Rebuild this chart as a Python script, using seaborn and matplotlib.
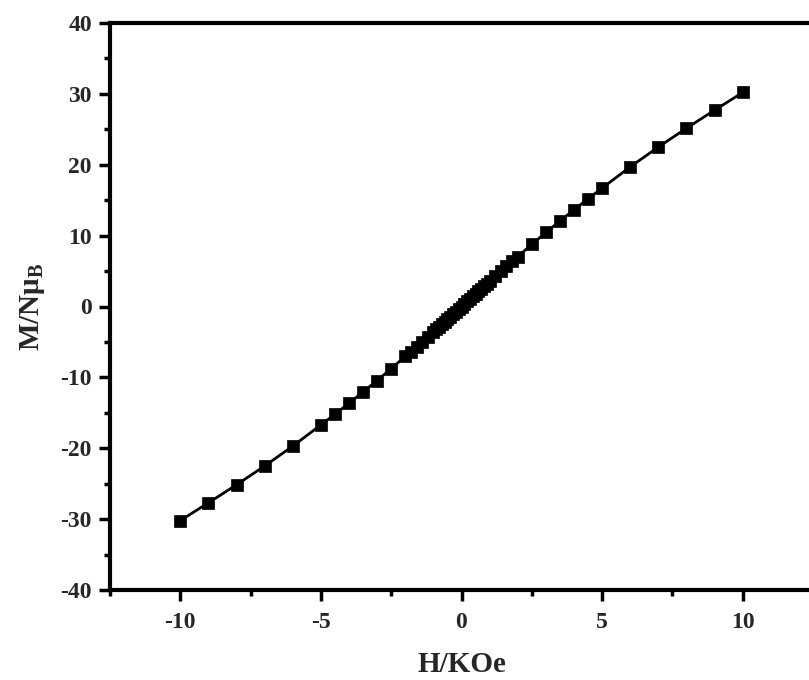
import matplotlib
matplotlib.use("Agg")
import matplotlib.pyplot as plt
import seaborn as sns
import pandas as pd
from matplotlib.ticker import MultipleLocator

# Data (H in kOe, M in N muB)
H_pos = [0.0, 0.1, 0.2, 0.3, 0.4, 0.5, 0.6, 0.7, 0.8, 0.9, 1.0,
         1.2, 1.4, 1.6, 1.8, 2.0, 2.5, 3.0, 3.5, 4.0, 4.5, 5.0,
         6.0, 7.0, 8.0, 9.0, 10.0]
M_pos = [0.0, 0.36, 0.71, 1.07, 1.43, 1.78, 2.14, 2.50, 2.85, 3.20, 3.56,
         4.26, 4.97, 5.67, 6.37, 7.05, 8.75, 10.45, 12.05, 13.65, 15.2, 16.7,
         19.7, 22.5, 25.15, 27.7, 30.2]
H_neg = [-h for h in H_pos[:0:-1]]
M_neg = [-m for m in M_pos[:0:-1]]
H = H_neg + H_pos
M = M_neg + M_pos

x_ticks = [-10, -5, 0, 5, 10]
y_ticks = [-40, -30, -20, -10, 0, 10, 20, 30, 40]

df = pd.DataFrame({"H": H, "M": M})

sns.set_style("ticks")
plt.rcParams["font.family"] = ["Liberation Serif", "DejaVu Serif"]
plt.rcParams["font.weight"] = "bold"
plt.rcParams["mathtext.fontset"] = "custom"
plt.rcParams["mathtext.rm"] = "Liberation Serif:bold"
plt.rcParams["mathtext.it"] = "Liberation Serif:bold"
plt.rcParams["mathtext.bf"] = "Liberation Serif:bold"

fig = plt.figure(figsize=(8.09, 6.8), dpi=100)
fig.patch.set_facecolor("white")
ax = fig.add_axes([110/809, 1-590/680, 703/809, 567/680])
ax.set_facecolor("white")

sns.lineplot(data=df, x="H", y="M", ax=ax, color="black", marker="s",
             markersize=8.5, markeredgecolor="black", markeredgewidth=0.5,
             linewidth=2.0)

ax.set_xlim(-12.5, 12.5)
ax.set_ylim(-40, 40)
ax.set_xticks(x_ticks)
ax.set_yticks(y_ticks)
ax.set_xticklabels([str(t) for t in x_ticks])
ax.set_yticklabels([str(t) for t in y_ticks])
ax.xaxis.set_minor_locator(MultipleLocator(2.5))
ax.yaxis.set_minor_locator(MultipleLocator(5))

ax.tick_params(axis="both", which="major", direction="out", length=8, width=2.5,
               labelsize=17, color="black")
ax.tick_params(axis="both", which="minor", direction="out", length=4, width=2.5,
               color="black")
ax.tick_params(axis="x", which="major", pad=8)
ax.tick_params(axis="y", which="major", pad=5)
ax.tick_params(top=False, right=False, which="both")

for side in ["left", "bottom", "top"]:
    ax.spines[side].set_linewidth(3)
    ax.spines[side].set_color("black")
ax.spines["right"].set_visible(False)

ax.set_xlabel("H/KOe", fontsize=21, fontweight="bold", labelpad=13)
ax.set_ylabel(r"$\mathbf{M/N\mu_B}$", fontsize=21, labelpad=10)

fig.savefig("out.png", dpi=100, facecolor="white")
